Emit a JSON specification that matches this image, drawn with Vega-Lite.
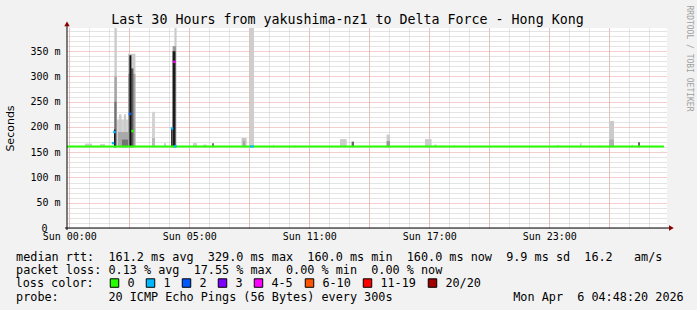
{
"$schema": "https://vega.github.io/schema/vega-lite/v6.json",
"width": 600,
"height": 200,
"autosize": {"type": "none"},
"padding": {"left": 67, "top": 28, "right": 30, "bottom": 82},
"background": "#f2f2f2",
"config": {
  "view": {"fill": "#ffffff", "stroke": null},
  "axis": {"labelFont": "DejaVu Sans Mono", "labelFontSize": 10, "labelColor": "#000000", "titleColor": "#000000", "titleFontWeight": "normal", "labelFlush": false, "labelOverlap": false, "labelBound": false}
},
"title": {"text": "Last 30 Hours from yakushima-nz1 to Delta Force - Hong Kong", "font": "DejaVu Sans Mono", "fontSize": 13.3, "fontWeight": "normal", "color": "#000000", "anchor": "middle", "frame": "group", "dx": -19.5, "dy": 32, "offset": 0, "baseline": "alphabetic"},
"datasets": {
  "smoke": [
    {"h0": 0.9, "h1": 1.25, "lo": 160, "hi": 167, "density": 0.15},
    {"h0": 1.65, "h1": 1.9, "lo": 160, "hi": 166, "density": 0.15},
    {"h0": 2.37, "h1": 2.49, "lo": 160, "hi": 400, "density": 0.15},
    {"h0": 2.37, "h1": 2.49, "lo": 160, "hi": 300, "density": 0.3},
    {"h0": 2.37, "h1": 2.47, "lo": 160, "hi": 250, "density": 0.5},
    {"h0": 2.35, "h1": 2.43, "lo": 160, "hi": 195, "density": 0.92},
    {"h0": 2.5, "h1": 3.05, "lo": 160, "hi": 215, "density": 0.12},
    {"h0": 2.6, "h1": 2.72, "lo": 160, "hi": 225, "density": 0.15},
    {"h0": 2.85, "h1": 2.95, "lo": 160, "hi": 225, "density": 0.15},
    {"h0": 2.55, "h1": 3.05, "lo": 160, "hi": 190, "density": 0.28},
    {"h0": 2.75, "h1": 3.05, "lo": 160, "hi": 175, "density": 0.5},
    {"h0": 3.05, "h1": 3.42, "lo": 160, "hi": 345, "density": 0.15},
    {"h0": 3.05, "h1": 3.42, "lo": 160, "hi": 305, "density": 0.3},
    {"h0": 3.2, "h1": 3.32, "lo": 160, "hi": 316, "density": 0.6},
    {"h0": 3.12, "h1": 3.22, "lo": 160, "hi": 342, "density": 0.95},
    {"h0": 4.25, "h1": 4.4, "lo": 160, "hi": 230, "density": 0.12},
    {"h0": 4.25, "h1": 4.4, "lo": 160, "hi": 178, "density": 0.22},
    {"h0": 4.85, "h1": 4.95, "lo": 160, "hi": 168, "density": 0.15},
    {"h0": 5.37, "h1": 5.48, "lo": 160, "hi": 400, "density": 0.15},
    {"h0": 5.28, "h1": 5.45, "lo": 160, "hi": 360, "density": 0.35},
    {"h0": 5.28, "h1": 5.42, "lo": 160, "hi": 350, "density": 0.9},
    {"h0": 5.2, "h1": 5.28, "lo": 160, "hi": 196, "density": 0.75},
    {"h0": 6.3, "h1": 6.5, "lo": 160, "hi": 168, "density": 0.15},
    {"h0": 6.8, "h1": 7.0, "lo": 160, "hi": 165, "density": 0.15},
    {"h0": 7.25, "h1": 7.35, "lo": 160, "hi": 168, "density": 0.5},
    {"h0": 8.73, "h1": 8.98, "lo": 160, "hi": 178, "density": 0.18},
    {"h0": 8.8, "h1": 8.9, "lo": 160, "hi": 172, "density": 0.3},
    {"h0": 9.15, "h1": 9.35, "lo": 160, "hi": 400, "density": 0.14},
    {"h0": 10.3, "h1": 10.35, "lo": 160, "hi": 165, "density": 0.15},
    {"h0": 11.3, "h1": 11.48, "lo": 160, "hi": 163, "density": 0.15},
    {"h0": 12.2, "h1": 12.28, "lo": 160, "hi": 163, "density": 0.15},
    {"h0": 13.2, "h1": 13.28, "lo": 160, "hi": 163, "density": 0.15},
    {"h0": 13.65, "h1": 13.98, "lo": 160, "hi": 176, "density": 0.15},
    {"h0": 14.23, "h1": 14.35, "lo": 160, "hi": 171, "density": 0.55},
    {"h0": 15.98, "h1": 16.15, "lo": 160, "hi": 185, "density": 0.15},
    {"h0": 15.98, "h1": 16.15, "lo": 160, "hi": 172, "density": 0.35},
    {"h0": 16.9, "h1": 17.0, "lo": 160, "hi": 163, "density": 0.15},
    {"h0": 17.9, "h1": 18.23, "lo": 160, "hi": 176, "density": 0.15},
    {"h0": 18.35, "h1": 18.5, "lo": 160, "hi": 165, "density": 0.15},
    {"h0": 18.65, "h1": 18.9, "lo": 160, "hi": 163, "density": 0.15},
    {"h0": 19.33, "h1": 19.4, "lo": 160, "hi": 164, "density": 0.15},
    {"h0": 20.15, "h1": 20.2, "lo": 160, "hi": 163, "density": 0.15},
    {"h0": 24.48, "h1": 24.6, "lo": 160, "hi": 164, "density": 0.15},
    {"h0": 25.0, "h1": 25.05, "lo": 160, "hi": 163, "density": 0.15},
    {"h0": 25.65, "h1": 25.73, "lo": 160, "hi": 168, "density": 0.15},
    {"h0": 26.55, "h1": 26.73, "lo": 160, "hi": 163, "density": 0.15},
    {"h0": 27.1, "h1": 27.35, "lo": 160, "hi": 212, "density": 0.15},
    {"h0": 27.1, "h1": 27.35, "lo": 160, "hi": 175, "density": 0.25},
    {"h0": 28.23, "h1": 28.3, "lo": 160, "hi": 165, "density": 0.15},
    {"h0": 28.55, "h1": 28.65, "lo": 160, "hi": 170, "density": 0.55},
    {"h0": 28.75, "h1": 28.8, "lo": 160, "hi": 163, "density": 0.15}
  ],
  "median": [
    {"h0": 0, "h1": 29.85, "rtt": 161.5, "loss": "0"},
    {"h0": 9.15, "h1": 9.35, "rtt": 161.5, "loss": "1"}
  ],
  "dots": [
    {"h": 2.3, "rtt": 168, "loss": "1"},
    {"h": 2.37, "rtt": 190, "loss": "1"},
    {"h": 3.15, "rtt": 226, "loss": "2"},
    {"h": 3.28, "rtt": 192, "loss": "0"},
    {"h": 5.25, "rtt": 197, "loss": "1"},
    {"h": 5.37, "rtt": 329, "loss": "4-5"},
    {"h": 5.42, "rtt": 162, "loss": "1"}
  ],
  "frame": [{"part": "axis"}]
},
"layer": [
  {
    "data": {"name": "smoke"},
    "mark": {"type": "rect", "clip": true},
    "encoding": {
      "x": {"field": "h0", "type": "quantitative", "scale": {"domain": [0, 30], "nice": false, "zero": false},
        "axis": {"orient": "bottom", "values": [0.115,1.115,2.115,3.115,4.115,5.115,6.115,7.115,8.115,9.115,10.115,11.115,12.115,13.115,14.115,15.115,16.115,17.115,18.115,19.115,20.115,21.115,22.115,23.115,24.115,25.115,26.115,27.115,28.115,29.115], "grid": true, "gridColor": "#c8c8c8", "gridDash": [1, 1], "gridWidth": 1, "labels": false, "ticks": false, "domain": false, "title": null}},
      "x2": {"field": "h1"},
      "y": {"field": "lo", "type": "quantitative", "scale": {"domain": [0, 396], "nice": false, "zero": false},
        "axis": {"orient": "left", "values": [0,10,20,30,40,60,70,80,90,110,120,130,140,160,170,180,190,210,220,230,240,260,270,280,290,310,320,330,340,360,370,380,390], "grid": true, "gridColor": "#c8c8c8", "gridDash": [1, 1], "gridWidth": 1, "labels": true, "labelExpr": "datum.value == 0 ? '0' : ''", "labelPadding": 20, "labelBaseline": "middle", "ticks": false, "domain": false, "title": null}},
      "y2": {"field": "hi"},
      "fill": {"field": "density", "type": "quantitative", "scale": {"domain": [0, 1], "range": ["#f4f4f4", "#000000"]}, "legend": null}
    }
  },
  {
    "data": {"name": "median"},
    "mark": {"type": "rule", "strokeWidth": 2},
    "encoding": {
      "x": {"field": "h0", "type": "quantitative", "scale": {"domain": [0, 30], "nice": false, "zero": false},
        "axis": {"orient": "bottom", "values": [0.115,3.115,6.115,9.115,12.115,15.115,18.115,21.115,24.115,27.115], "grid": true, "gridColor": "#e89a9a", "gridDash": [1, 1], "gridWidth": 1, "labels": false, "ticks": false, "domain": false,
          "title": "probe:\u00a0\u00a0\u00a0\u00a0\u00a0\u00a0\u00a020 ICMP Echo Pings (56 Bytes) every 300s\u00a0\u00a0\u00a0\u00a0\u00a0\u00a0\u00a0\u00a0\u00a0\u00a0\u00a0\u00a0\u00a0\u00a0\u00a0\u00a0\u00a0Mon Apr\u00a0\u00a06 04:48:20 2026",
          "titleFont": "DejaVu Sans Mono", "titleFontSize": 11.8, "titleFontWeight": "normal", "titleColor": "#000000", "titleAlign": "left", "titleAnchor": "start", "titleX": -51.4, "titleY": 72.5, "titleBaseline": "alphabetic", "titleLimit": 3000}},
      "x2": {"field": "h1"},
      "y": {"field": "rtt", "type": "quantitative", "scale": {"domain": [0, 396], "nice": false, "zero": false},
        "axis": {"orient": "left", "values": [50,100,150,200,250,300,350], "grid": true, "gridColor": "#e89a9a", "gridDash": [1, 1], "gridWidth": 1, "labels": false, "ticks": false, "domain": false, "title": null}},
      "stroke": {"field": "loss", "type": "nominal", "scale": {"domain": ["0","1"], "range": ["#26ff00","#00b8ff"]}, "legend": null}
    }
  },
  {
    "data": {"name": "dots"},
    "mark": {"type": "point", "shape": "square", "filled": true, "size": 6, "opacity": 1},
    "encoding": {
      "x": {"field": "h", "type": "quantitative", "scale": {"domain": [0, 30], "nice": false, "zero": false},
        "axis": {"orient": "bottom", "values": [0.115, 6.115, 12.115, 18.115, 24.115], "labelExpr": "['Sun 00:00','Sun 05:00','Sun 11:00','Sun 17:00','Sun 23:00'][round(datum.value/6)]", "labelPadding": 3, "labelBaseline": "top", "ticks": false, "domain": false, "grid": false,
          "title": ["median rtt:\u00a0\u00a0161.2 ms avg\u00a0\u00a0329.0 ms max\u00a0\u00a0160.0 ms min\u00a0\u00a0160.0 ms now\u00a0\u00a09.9 ms sd\u00a0\u00a016.2\u00a0\u00a0\u00a0am/s", "packet loss: 0.13 % avg\u00a0\u00a017.55 % max\u00a0\u00a00.00 % min\u00a0\u00a00.00 % now"],
          "titleFont": "DejaVu Sans Mono", "titleFontSize": 11.8, "titleFontWeight": "normal", "titleColor": "#000000", "titleAlign": "left", "titleAnchor": "start", "titleX": -51.4, "titleY": 32, "titleBaseline": "alphabetic", "titleLineHeight": 13.5, "titleLimit": 3000}},
      "y": {"field": "rtt", "type": "quantitative", "scale": {"domain": [0, 396], "nice": false, "zero": false},
        "axis": {"orient": "left", "values": [50,100,150,200,250,300,350], "labelExpr": "datum.value + ' m'", "labelPadding": 7, "labelBaseline": "middle", "ticks": false, "domain": false, "grid": false,
          "title": "Seconds", "titleFont": "DejaVu Sans", "titleFontSize": 11, "titleFontWeight": "normal", "titleX": -56.5, "titleY": 100, "titleAngle": 270, "titleAlign": "center", "titleBaseline": "middle"}},
      "color": {"field": "loss", "type": "nominal", "scale": {"domain": ["0","1","2","3","4-5","6-10","11-19","20/20"], "range": ["#26ff00","#00b8ff","#0059ff","#7e00ff","#ff00ff","#ff5500","#ff0000","#a10000"]},
        "legend": {"orient": "none", "legendX": -51.4, "legendY": 249, "direction": "horizontal", "columns": 8, "title": "loss color:", "titleOrient": "left", "titleFont": "DejaVu Sans Mono", "titleFontSize": 11.8, "titleFontWeight": "normal", "titleColor": "#000000", "titlePadding": 14, "titleBaseline": "middle", "labelFont": "DejaVu Sans Mono", "labelFontSize": 11.8, "labelColor": "#000000", "labelOffset": 7, "columnPadding": 9, "symbolType": "square", "symbolSize": 72, "symbolStrokeColor": "#000000", "symbolStrokeWidth": 1, "symbolOpacity": 1}}
    }
  },
  {
    "data": {"name": "frame"},
    "mark": {"type": "rule", "color": "#000000", "strokeWidth": 1, "clip": false},
    "encoding": {
      "x": {"datum": -0.1, "type": "quantitative", "scale": {"domain": [0, 30], "nice": false, "zero": false}, "axis": null},
      "x2": {"datum": 30.2},
      "y": {"datum": 0, "type": "quantitative", "scale": {"domain": [0, 396], "nice": false, "zero": false},
        "axis": {"orient": "right", "title": "RRDTOOL / TOBI OETIKER", "labels": false, "ticks": false, "domain": false, "grid": false, "titleAngle": 90, "titleFont": "DejaVu Sans Mono", "titleFontSize": 8, "titleFontWeight": "normal", "titleColor": "#a0a0a0", "titleX": 21, "titleY": -23, "titleAlign": "left", "titleBaseline": "middle"}}
    }
  },
  {
    "data": {"name": "frame"},
    "mark": {"type": "rule", "color": "#000000", "strokeWidth": 1, "clip": false},
    "encoding": {
      "x": {"datum": 0, "type": "quantitative", "scale": {"domain": [0, 30], "nice": false, "zero": false}, "axis": null},
      "y": {"datum": -4, "type": "quantitative", "scale": {"domain": [0, 396], "nice": false, "zero": false}, "axis": null},
      "y2": {"datum": 402}
    }
  },
  {
    "data": {"name": "frame"},
    "mark": {"type": "point", "shape": "triangle-up", "filled": true, "size": 30, "color": "#8b0000", "opacity": 1, "clip": false},
    "encoding": {
      "x": {"datum": 0, "type": "quantitative", "scale": {"domain": [0, 30], "nice": false, "zero": false}, "axis": null},
      "y": {"datum": 404, "type": "quantitative", "scale": {"domain": [0, 396], "nice": false, "zero": false}, "axis": null}
    }
  },
  {
    "data": {"name": "frame"},
    "mark": {"type": "point", "shape": "triangle-right", "filled": true, "size": 30, "color": "#8b0000", "opacity": 1, "clip": false},
    "encoding": {
      "x": {"datum": 30.22, "type": "quantitative", "scale": {"domain": [0, 30], "nice": false, "zero": false}, "axis": null},
      "y": {"datum": 0, "type": "quantitative", "scale": {"domain": [0, 396], "nice": false, "zero": false}, "axis": null}
    }
  }
],
"resolve": {"axis": {"x": "independent", "y": "independent"}}
}
